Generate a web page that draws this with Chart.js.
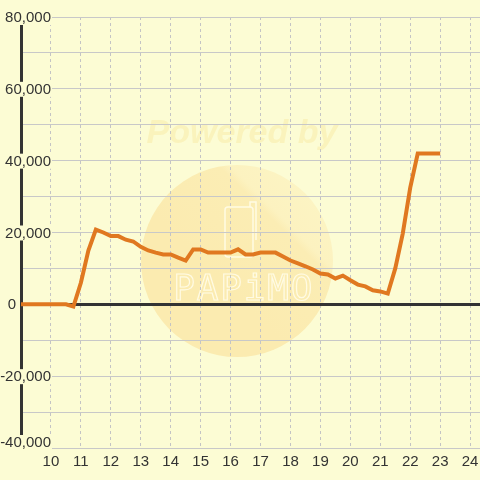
<!DOCTYPE html>
<html>
<head>
<meta charset="utf-8">
<script src="https://cdn.jsdelivr.net/npm/chart.js@4"></script>
<style>
  html, body { margin: 0; padding: 0; background: #fcfcd4; }
  #myChart { display: block; }
</style>
</head>
<body>
<canvas id="myChart" width="480" height="480"></canvas>
<script>
const hours = [
  9, 9.25, 9.5, 9.75, 10, 10.25, 10.5, 10.75, 11, 11.25, 11.5, 11.75,
  12, 12.25, 12.5, 12.75, 13, 13.25, 13.5, 13.75, 14, 14.25, 14.5, 14.75,
  15, 15.25, 15.5, 15.75, 16, 16.25, 16.5, 16.75, 17, 17.25, 17.5, 17.75,
  18, 18.25, 18.5, 18.75, 19, 19.25, 19.5, 19.75, 20, 20.25, 20.5, 20.75,
  21, 21.25, 21.5, 21.75, 22, 22.25, 22.5, 22.75, 23
];
const values = [
  0, 0, 0, 0, 0, 0, 0, -600, 6000, 15000, 20800, 20000,
  19000, 19000, 18000, 17500, 16000, 15000, 14400, 13900, 13900, 13000, 12200, 15300,
  15300, 14400, 14400, 14400, 14400, 15300, 13900, 13900, 14400, 14400, 14400, 13300,
  12200, 11400, 10600, 9700, 8600, 8300, 7200, 8000, 6700, 5500, 5000, 3900,
  3600, 3000, 10000, 19700, 32500, 42000, 42000, 42000, 42000
];
const xTicks = [10, 11, 12, 13, 14, 15, 16, 17, 18, 19, 20, 21, 22, 23, 24];
const yTicks = [80000, 60000, 40000, 20000, 0, -20000, -40000];
const yTickLabels = ['80,000', '60,000', '40,000', '20,000', '0', '-20,000', '-40,000'];

const BG = '#fcfcd4';
const ctx = document.getElementById('myChart').getContext('2d');

const config = {
  type: 'line',
  data: {
    datasets: [{
      data: hours.map((h, i) => ({x: h, y: values[i]})),
      borderColor: '#e07820',
      borderWidth: 4,
      pointRadius: 0,
      tension: 0,
      fill: false
    }]
  },
  options: {
    responsive: false,
    animation: false,
    layout: {padding: {top: 17, right: 0, left: 0, bottom: 0}},
    plugins: {legend: {display: false}, tooltip: {enabled: false}},
    scales: {
      x: {
        type: 'linear',
        min: 9,
        max: 24.33,
        afterBuildTicks(scale) {
          scale.ticks = xTicks.map(v => ({value: v}));
        },
        afterFit(scale) {
          scale.height = 32;
          scale.paddingLeft = 0;
          scale.paddingRight = 0;
        },
        ticks: {
          color: '#333',
          padding: 5,
          maxRotation: 0,
          autoSkip: false,
          font: {family: 'Liberation Sans', size: 15}
        },
        grid: {color: '#c4c4c4', drawTicks: false},
        border: {display: false, dash: [3, 3]}
      },
      y: {
        min: -40000,
        max: 80000,
        afterFit(scale) {
          scale.width = 21;
          scale.paddingTop = 0;
          scale.paddingBottom = 0;
        },
        ticks: {stepSize: 10000, display: false},
        grid: {
          drawTicks: false,
          color: c => c.tick.value === 0 ? '#333' : '#c8c8c8',
          lineWidth: c => c.tick.value === 0 ? 3 : 1
        },
        border: {display: true, color: '#333', width: 3}
      }
    }
  },
  plugins: [{
    beforeDraw(chart) {
      const {ctx} = chart;
      ctx.save();
      ctx.fillStyle = BG;
      ctx.fillRect(0, 0, chart.width, chart.height);

      // watermark circle
      const cx = 237, cy = 261, r = 96;
      const g = ctx.createLinearGradient(cx + r, cy - r, cx - r * 0.2, cy + r * 0.2);
      g.addColorStop(0, '#fcf6c6');
      g.addColorStop(0.45, '#fcf2c0');
      g.addColorStop(0.5, '#fbedb4');
      g.addColorStop(1, '#fbebb0');
      ctx.fillStyle = g;
      ctx.beginPath();
      ctx.arc(cx, cy, r, 0, Math.PI * 2);
      ctx.fill();

      // Powered by
      ctx.fillStyle = '#faf3bc';
      ctx.font = 'italic bold 34px "Liberation Sans"';
      ctx.textAlign = 'center';
      ctx.textBaseline = 'middle';
      ctx.fillText('Powered by', 242, 134);

      // phone outline
      ctx.strokeStyle = '#fffbe4';
      ctx.lineWidth = 1.5;
      ctx.beginPath();
      ctx.roundRect(225, 207, 28, 50, 3);
      ctx.stroke();
      ctx.beginPath();
      ctx.moveTo(250, 207);
      ctx.lineTo(250, 202);
      ctx.lineTo(256, 202);
      ctx.lineTo(256, 240);
      ctx.stroke();

      // PAPiMO
      ctx.font = '36px "DejaVu Sans Mono"';
      ctx.lineWidth = 1.2;
      ctx.strokeStyle = '#fffbe4';
      ctx.textBaseline = 'alphabetic';
      const letters = ['P', 'A', 'P', 'i', 'M', 'O'];
      letters.forEach((ch, i) => ctx.strokeText(ch, 184 + i * 23.5, 300));
      ctx.restore();
    },
    beforeDatasetsDraw(chart) {
      const {ctx, scales: {y}} = chart;
      ctx.save();
      ctx.font = '15px "Liberation Sans"';
      ctx.textBaseline = 'middle';
      ctx.textAlign = 'right';
      yTicks.forEach((v, i) => {
        let py = y.getPixelForValue(v);
        if (i === yTicks.length - 1) py -= 6;
        const label = yTickLabels[i];
        const w = ctx.measureText(label).width;
        const right = v === 0 ? 16 : 51;
        if (v !== 0) {
          ctx.fillStyle = BG;
          ctx.fillRect(right - w - 1, py - 7, w + 2, 15);
        }
        ctx.fillStyle = '#333';
        ctx.fillText(label, right, py + 1);
      });
      ctx.restore();
    }
  }]
};

const myChart = new Chart(ctx, config);
</script>
</body>
</html>
